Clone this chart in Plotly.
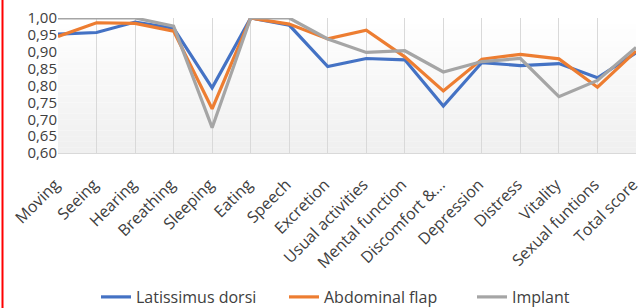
import plotly.graph_objects as go

categories = ["Moving", "Seeing", "Hearing", "Breathing", "Sleeping", "Eating", "Speech",
              "Excretion", "Usual activities", "Mental function", "Discomfort &...",
              "Depression", "Distress", "Vitality", "Sexual funtions", "Total score"]

latissimus = [0.952, 0.957, 0.988, 0.970, 0.793, 1.000, 0.979, 0.856, 0.880, 0.876,
              0.739, 0.868, 0.859, 0.865, 0.823, 0.897]
abdominal = [0.945, 0.986, 0.984, 0.961, 0.731, 1.000, 0.982, 0.938, 0.964, 0.885,
             0.784, 0.878, 0.892, 0.879, 0.795, 0.902]
implant = [1.000, 1.000, 1.000, 0.976, 0.675, 1.000, 1.000, 0.938, 0.898, 0.903,
           0.840, 0.871, 0.880, 0.767, 0.815, 0.913]

series = [("Latissimus dorsi", latissimus, "#4472C4"),
          ("Abdominal flap", abdominal, "#ED7D31"),
          ("Implant", implant, "#A5A5A5")]

W, H = 640, 308
L, R, T, B = 58, 4, 18, 155
pw, ph = W - L - R, H - T - B

fig = go.Figure()
for name, vals, col in series:
    fig.add_trace(go.Scatter(x=categories, y=vals, mode="lines", name=name,
                             line=dict(color=col, width=3.2)))

shapes = []
# subtle vertical gradient in plot area
n = 24
for i in range(n):
    g = int(255 - (i / (n - 1)) * 15)
    shapes.append(dict(type="rect", xref="paper", yref="paper",
                       x0=0, x1=1, y0=1 - (i + 1) / n, y1=1 - i / n,
                       fillcolor=f"rgb({g},{g},{g})", line=dict(width=0), layer="below"))
# red left border
shapes.append(dict(type="line", xref="paper", yref="paper",
                   x0=-(L - 2.5) / pw, x1=-(L - 2.5) / pw,
                   y0=-(H - T - ph) / ph - 0.01, y1=1 + T / ph + 0.01,
                   line=dict(color="#FF0000", width=2)))

fig.update_layout(
    width=W, height=H,
    margin=dict(l=L, r=R, t=T, b=B, pad=0, autoexpand=False),
    paper_bgcolor="white", plot_bgcolor="rgba(0,0,0,0)",
    font=dict(family="Open Sans", size=15, color="#404040"),
    separators=",.",
    shapes=shapes,
    showlegend=True,
    legend=dict(orientation="h", x=(96 - L) / pw, xanchor="left", y=-(297 - T - ph) / ph,
                yanchor="middle", font=dict(size=16, color="#404040"),
                bgcolor="rgba(0,0,0,0)", traceorder="normal",
                entrywidth=143, entrywidthmode="pixels"),
    xaxis=dict(type="category", range=[0, len(categories) - 1], showgrid=True,
               gridcolor="#D9D9D9", gridwidth=1, tickangle=-45, ticks="",
               showline=True, linecolor="#D9D9D9", tickfont=dict(size=16),
               zeroline=False, automargin=False, ticklabelstandoff=15,
               ticklabelshift=-3),
    yaxis=dict(range=[0.6, 1.0], dtick=0.05, tickformat=".2f", showgrid=False,
               zeroline=False, showline=False, ticks="", tickfont=dict(size=15),
               automargin=False, ticklabelstandoff=0),
)

fig.write_html("out.html", config={"displayModeBar": False},
               post_script="document.body.style.margin='0';document.body.style.overflow='hidden';")
